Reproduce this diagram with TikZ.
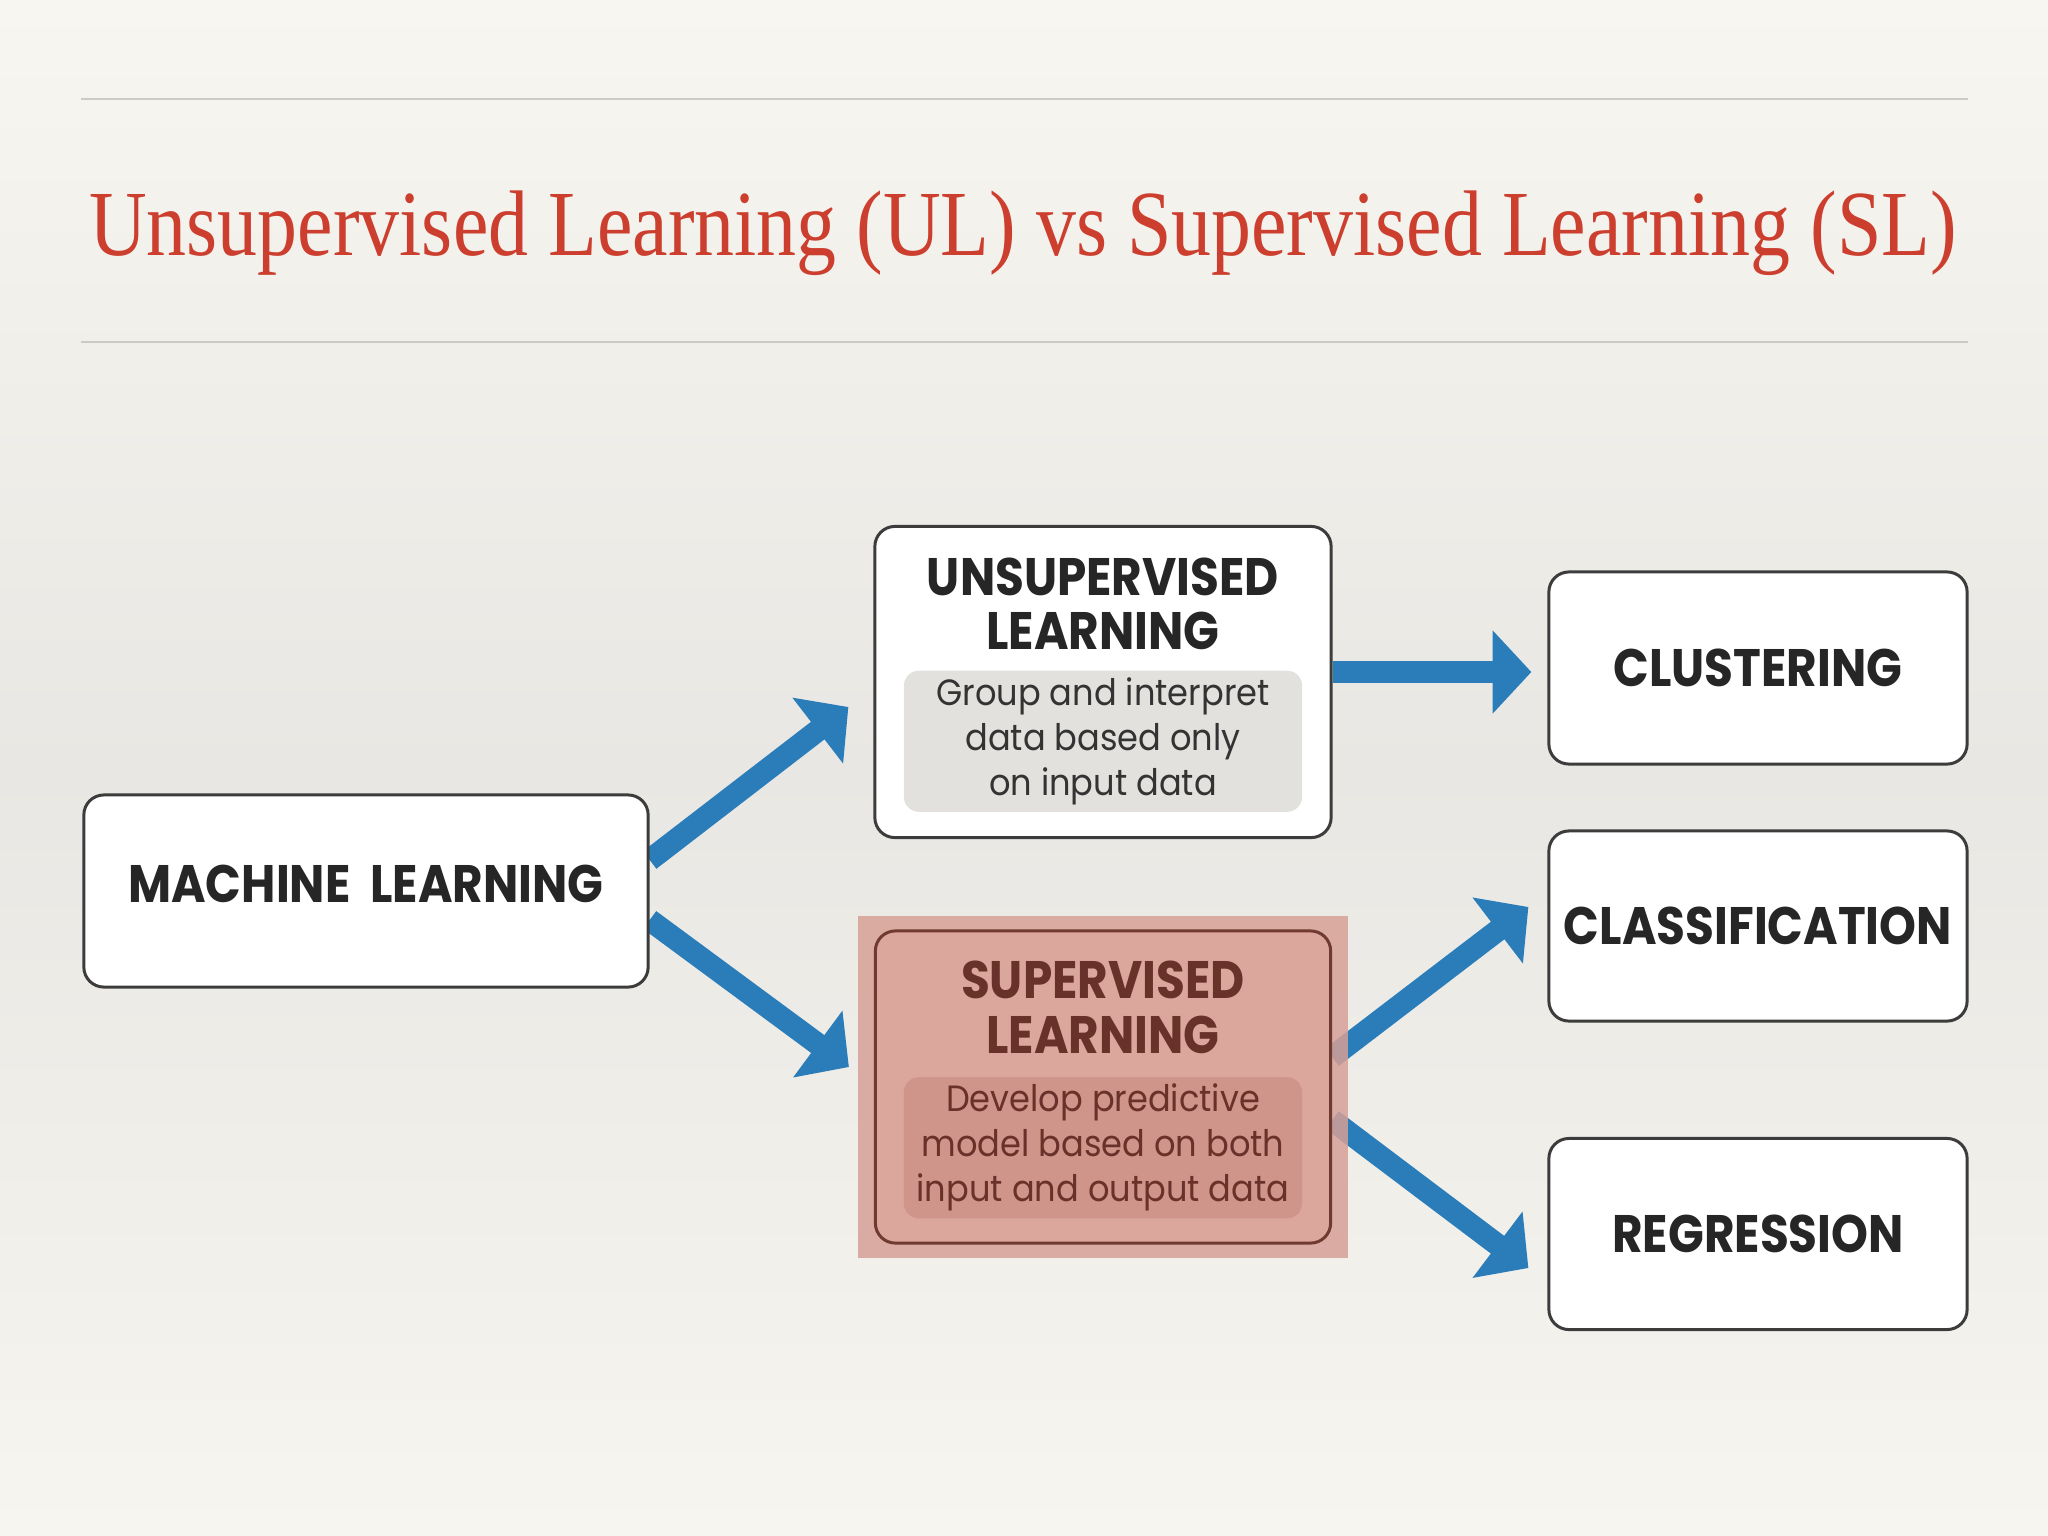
\documentclass[tikz,border=0pt]{standalone}
\usepackage{fontspec}
\usepackage{tikz}
\usetikzlibrary{positioning,arrows.meta,calc}
\newfontfamily\titlefont[FakeStretch=0.857]{Liberation Serif}
\newfontfamily\boxfont[FakeStretch=0.89]{Poppins}
\newfontfamily\bodyfont[FakeStretch=0.92]{Poppins}
\definecolor{titlered}{RGB}{204,62,46}
\definecolor{arrblue}{RGB}{42,125,185}
\definecolor{rulegray}{RGB}{204,202,196}
\definecolor{boxline}{RGB}{60,60,60}
\definecolor{innergray}{RGB}{226,225,222}
\definecolor{hlred}{RGB}{214,160,150}
\definecolor{slfill}{RGB}{219,166,156}
\definecolor{slinner}{RGB}{207,148,138}
\definecolor{slline}{RGB}{112,58,48}
\definecolor{sltext}{RGB}{104,50,42}
\definecolor{bgtop}{RGB}{248,246,240}
\definecolor{bgmid}{RGB}{233,231,227}
\definecolor{bgbot}{RGB}{247,245,239}
\pgfdeclarelayer{back}
\pgfdeclarelayer{under}
\pgfdeclarelayer{tint}
\pgfsetlayers{back,under,tint,main}
\tikzstyle{mlbox}=[draw=boxline,line width=0.85pt,rounded corners=0.2cm,fill=white,inner sep=0pt]
\tikzstyle{head}=[font=\boxfont\bfseries\fontsize{15}{15.5}\selectfont,text=black!85,align=center,inner sep=0pt]
\tikzstyle{body}=[font=\bodyfont\fontsize{10.4}{12.8}\selectfont,text=black!80,align=center,rounded corners=0.15cm,minimum width=3.98cm,minimum height=1.41cm,inner sep=0pt]
\tikzstyle{arr}=[arrblue,line width=6.3pt,-{Triangle[length=11pt,width=23pt]}]
\begin{document}
\begin{tikzpicture}[x=0.01cm,y=-0.01cm]
\useasboundingbox (0,0) rectangle (2048,1536);
\begin{pgfonlayer}{back}
\shade[top color=bgtop,bottom color=bgbot,middle color=bgmid] (0,0) rectangle (2048,1536);
\end{pgfonlayer}
\draw[rulegray,line width=0.5pt] (81,99) -- (1968,99);
\draw[rulegray,line width=0.5pt] (81,342) -- (1968,342);
\node[font=\titlefont\fontsize{26.5}{30}\selectfont,text=titlered,anchor=base] (title) at (1023,255) {Unsupervised Learning (UL) vs Supervised Learning (SL)};
\node[mlbox,head,minimum width=5.64cm,minimum height=1.92cm] (ml) at (366,891) {\raisebox{4pt}{MACHINE\ \ LEARNING}};
\node[mlbox,minimum width=4.56cm,minimum height=3.11cm] (ul) at (1103,682) {};
\node[head,below=0.32cm of ul.north] (ulh) {UNSUPERVISED\\LEARNING};
\node[body,fill=innergray,below=1.45cm of ul.north] (ulb) {Group and interpret\\data based only\\on input data};
\node[mlbox,draw=slline,fill=slfill,minimum width=4.55cm,minimum height=3.12cm] (sl) at (1103,1087) {};
\node[head,text=sltext,below=0.31cm of sl.north] (slh) {SUPERVISED\\LEARNING};
\node[body,fill=slinner,text=sltext,below=1.47cm of sl.north] (slb) {Develop predictive\\model based on both\\input and output data};
\node[mlbox,head,minimum width=4.18cm,minimum height=1.92cm] (cl) at (1758,668) {CLUSTERING};
\node[mlbox,head,minimum width=4.18cm,minimum height=1.90cm] (cf) at (1758,926) {CLASSIFICATION};
\node[mlbox,head,minimum width=4.18cm,minimum height=1.91cm] (rg) at (1758,1234) {REGRESSION};
\begin{pgfonlayer}{tint}
\fill[hlred,fill opacity=0.85] (858,916) rectangle (1348,1258);
\end{pgfonlayer}
\begin{pgfonlayer}{under}
\draw[arr] ($(ml.east)+(0,-31)$) -- ($(ul.west)+(-25,25)$);
\draw[arr] ($(ml.east)+(0,29)$) -- ($(sl.west)+(-25,-20)$);
\draw[arr] ($(ul.east)+(0,-10)$) -- ($(cl.west)+(-16,4)$);
\draw[arr] ($(sl.east)+(0,-30)$) -- ($(cf.west)+(-19,-19)$);
\draw[arr] ($(sl.east)+(0,33)$) -- ($(rg.west)+(-19,34)$);
\end{pgfonlayer}
\end{tikzpicture}
\end{document}
